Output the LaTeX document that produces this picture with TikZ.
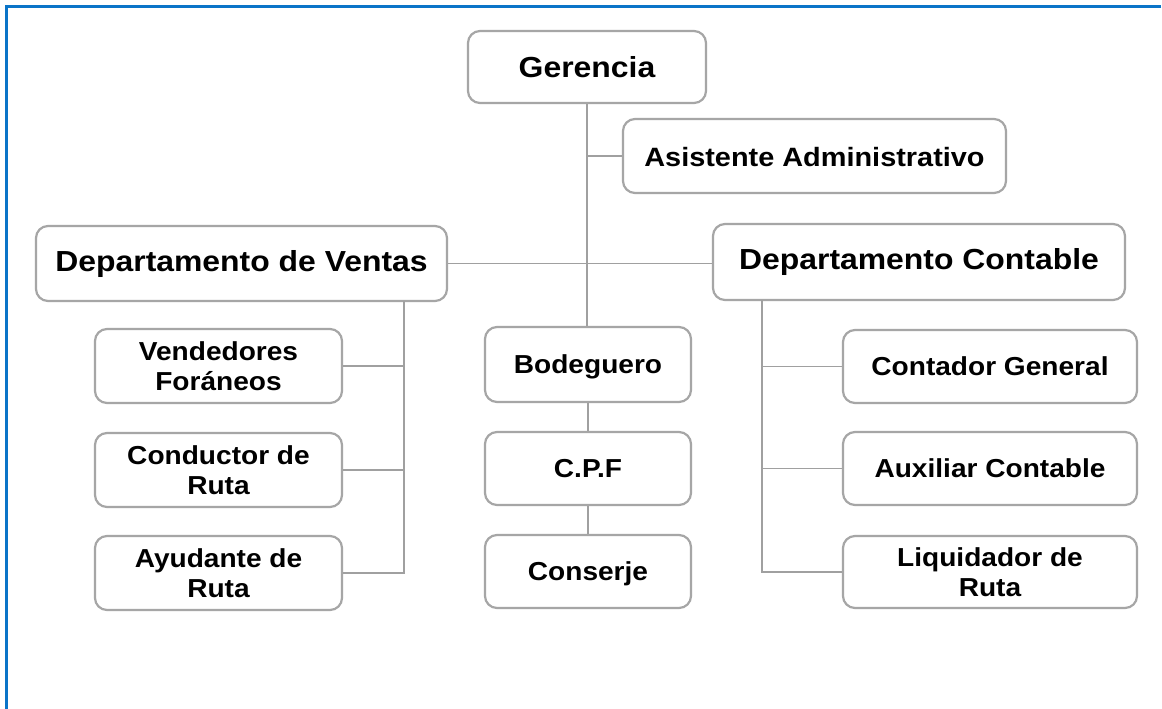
\documentclass[tikz,border=0pt]{standalone}
\usepackage{fontspec}
\setmainfont{Liberation Sans}
\newcommand\smtxt[1]{{\bfseries\fontsize{26}{30}\selectfont\raisebox{-3pt}[\height][\depth]{\scalebox{1.08}[1]{\begin{tabular}{@{}c@{}}#1\end{tabular}}}}}
\newcommand\mdtxt[1]{{\bfseries\fontsize{26.5}{30}\selectfont\raisebox{-1.5pt}[\height][\depth]{\scalebox{1.09}[1]{#1}}}}
\newcommand\bgtxt[1]{{\bfseries\fontsize{29}{32}\selectfont\scalebox{1.1}[1]{#1}}}
\begin{document}
\begin{tikzpicture}[x=1pt,y=-1pt,
  box/.style={draw=boxgray, line width=2.2pt, rounded corners=12pt, fill=white,
    align=center, inner sep=0pt},
  conn/.style={draw=linegray, line width=1.3pt}]
\definecolor{boxgray}{HTML}{A6A6A6}
\definecolor{linegray}{HTML}{A0A0A0}
\definecolor{frameblue}{HTML}{0A74C8}
\useasboundingbox (0,0) rectangle (1162,709);
\fill[white] (0,0) rectangle (1162,709);
\draw[frameblue, line width=2.6pt] (1161,6.5) -- (6.5,6.5) -- (6.5,709);

% nodes
\node[box, minimum width=238pt, minimum height=72pt] (ger) at (587,67) {\bgtxt{Gerencia}};
\node[box, minimum width=383pt, minimum height=74pt] (asi) at (814.5,156) {\mdtxt{Asistente Administrativo}};
\node[box, minimum width=411pt, minimum height=75pt] (ven) at (241.5,263.5) {\bgtxt{Departamento de Ventas}};
\node[box, minimum width=412pt, minimum height=76pt] (con) at (919,262) {\bgtxt{Departamento Contable}};

\node[box, minimum width=247pt, minimum height=74pt] (vend) at (218.5,366) {\smtxt{Vendedores\\Foráneos}};
\node[box, minimum width=247pt, minimum height=74pt] (cond) at (218.5,470) {\smtxt{Conductor de\\Ruta}};
\node[box, minimum width=247pt, minimum height=74pt] (ayu) at (218.5,573) {\smtxt{Ayudante de\\Ruta}};

\node[box, minimum width=206pt, minimum height=75pt] (bod) at (588,364.5) {\smtxt{Bodeguero}};
\node[box, minimum width=206pt, minimum height=73pt] (cpf) at (588,468.5) {\smtxt{C.P.F}};
\node[box, minimum width=206pt, minimum height=73pt] (cons) at (588,571.5) {\smtxt{Conserje}};

\node[box, minimum width=294pt, minimum height=73pt] (cont) at (990,366.5) {\smtxt{Contador General}};
\node[box, minimum width=294pt, minimum height=73pt] (aux) at (990,468.5) {\smtxt{Auxiliar Contable}};
\node[box, minimum width=294pt, minimum height=72pt] (liq) at (990,572) {\smtxt{Liquidador de\\Ruta}};

% branch points
\coordinate (vl) at (404,301);
\coordinate (vr) at (762,300);

% connectors
\path[conn] (ger.south) -- (ger.south |- bod.north);
\path[conn] (asi.west) -- (asi.west -| ger.south);
\path[conn] (ven.east) -- (ven.east -| con.west);
\path[conn] (vl) -- (vl |- ayu.east) -- (ayu.east);
\path[conn] (vend.east) -- (vend.east -| vl);
\path[conn] (cond.east) -- (cond.east -| vl);
\path[conn] (vr) -- (vr |- liq.west) -- (liq.west);
\path[conn] (cont.west) -- (cont.west -| vr);
\path[conn] (aux.west) -- (aux.west -| vr);
\path[conn] (bod.south) -- (cpf.north);
\path[conn] (cpf.south) -- (cons.north);
\end{tikzpicture}
\end{document}
